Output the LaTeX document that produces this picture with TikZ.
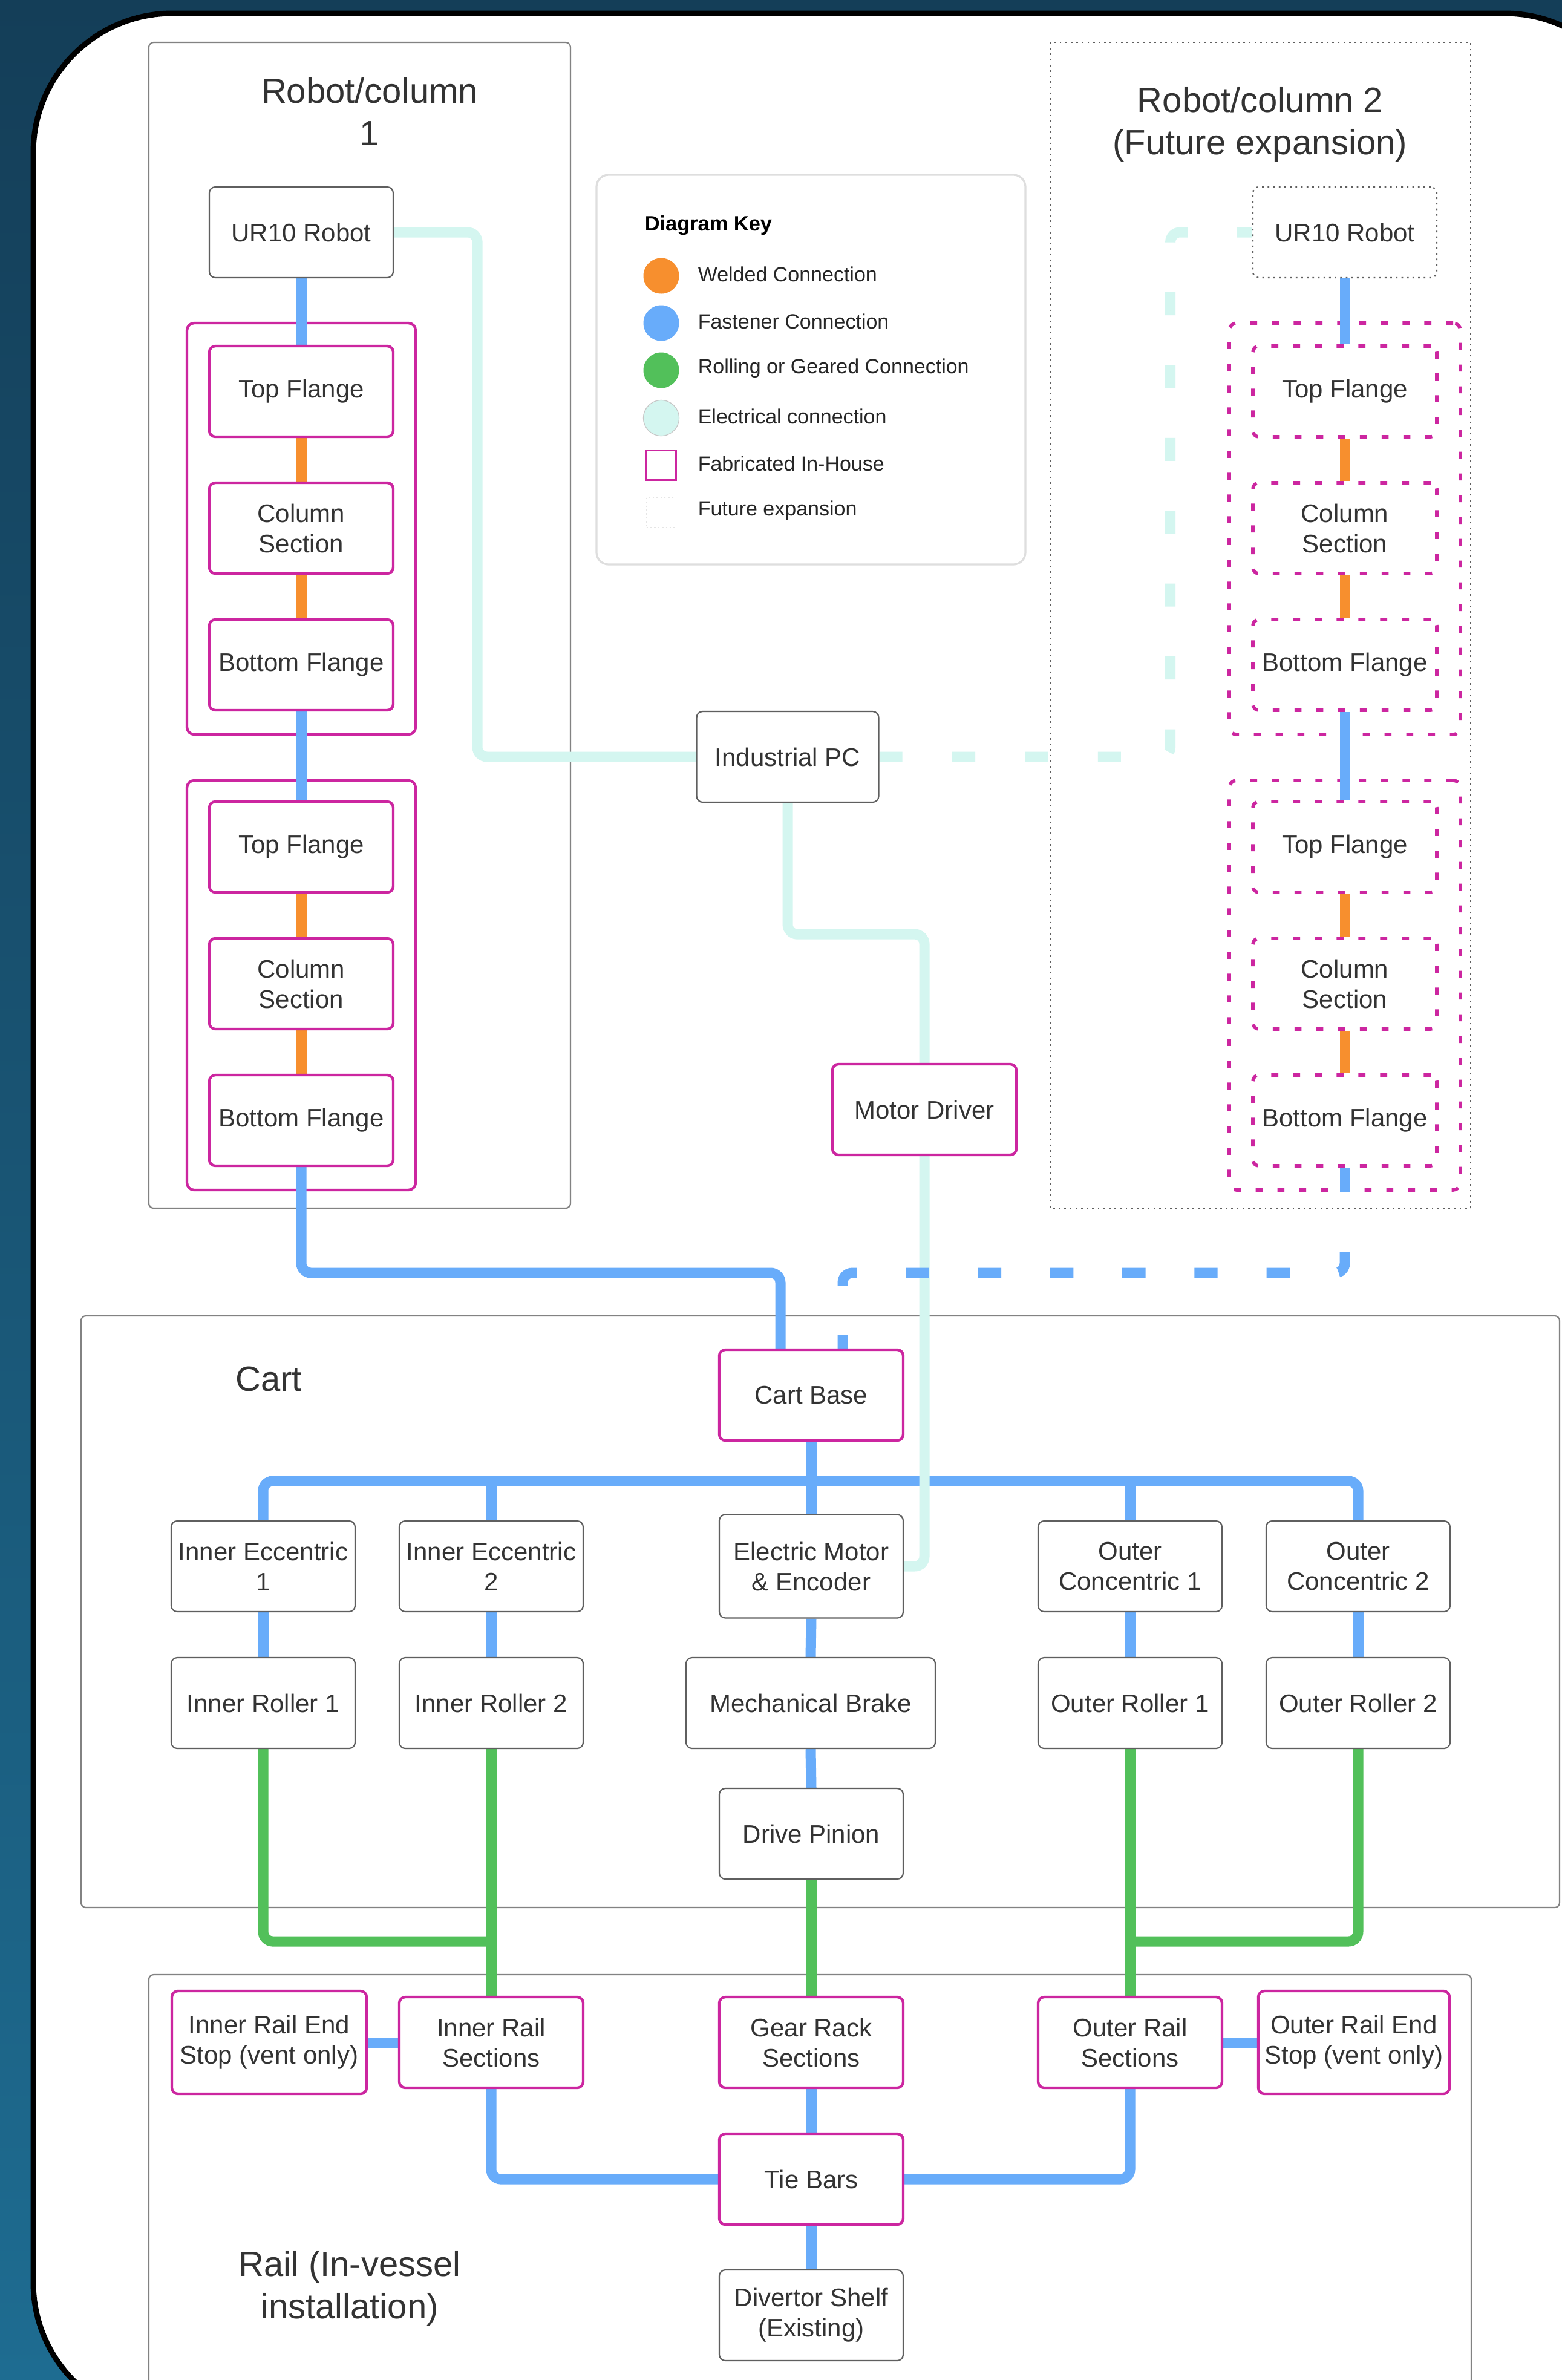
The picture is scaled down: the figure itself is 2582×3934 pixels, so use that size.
\documentclass[tikz,border=0pt]{standalone}
\usepackage{fontspec}
\setmainfont{Liberation Sans}
\usetikzlibrary{calc}
\pgfdeclarelayer{back}
\pgfdeclarelayer{wires}
\pgfsetlayers{back,wires,main}

\definecolor{bgtop}{RGB}{20,62,88}
\definecolor{bgbot}{RGB}{30,108,145}
\definecolor{fastc}{RGB}{104,172,250}
\definecolor{weldc}{RGB}{247,143,46}
\definecolor{rollc}{RGB}{82,192,90}
\definecolor{elecc}{RGB}{212,246,240}
\definecolor{fabc}{RGB}{204,38,160}
\definecolor{txtc}{RGB}{51,51,51}
\definecolor{boxc}{RGB}{95,95,95}
\definecolor{contc}{RGB}{130,130,130}

\tikzset{
  box/.style={draw=boxc, line width=0.55pt, rounded corners=2.5pt, fill=white, text=txtc, align=center, inner sep=0pt, minimum width=76pt, minimum height=37.5pt, font=\fontsize{10.5}{12.5}\selectfont},
  fab/.style={box, draw=fabc, line width=1.1pt},
  futfab/.style={box, draw=fabc, line width=1.4pt, dash pattern=on 2.9pt off 6.1pt},
  futbox/.style={box, draw=boxc, line width=0.6pt, dash pattern=on 0.7pt off 1.6pt},
  grp/.style={draw=fabc, line width=1.1pt, rounded corners=3pt, fill=white, inner sep=0pt, minimum width=94.5pt},
  futgrp/.style={grp, line width=1.4pt, dash pattern=on 2.9pt off 6.1pt, minimum width=95.5pt},
  cont/.style={draw=contc, line width=0.55pt, rounded corners=2pt, fill=white},
  futcont/.style={draw=boxc, line width=0.6pt, dash pattern=on 0.7pt off 1.6pt},
  wire/.style={line width=4.25pt, rounded corners=4pt},
  fast/.style={wire, draw=fastc},
  weld/.style={wire, draw=weldc},
  roll/.style={wire, draw=rollc},
  elec/.style={wire, draw=elecc},
  ttl/.style={text=txtc, align=center, font=\fontsize{14.5}{17.5}\selectfont},
  keytxt/.style={anchor=west, text=black!85, font=\fontsize{8.5}{10}\selectfont, inner sep=0pt},
  keydot/.style={circle, inner sep=0pt, minimum size=14.75pt},
}

\begin{document}
\begin{tikzpicture}[x=0.25pt,y=-0.25pt]
\useasboundingbox (0,0) rectangle (2582,3934);

\begin{pgfonlayer}{back}
  \fill[top color=bgtop, bottom color=bgbot] (0,0) rectangle (2582,3934);
  \draw[fill=white, line width=2.25pt, rounded corners=57.5pt] (55,22) rectangle (2717,4003);
  % containers
  \draw[cont] (246,70) rectangle (943,1997);
  \draw[futcont] (1736,70) rectangle (2431,1997);
  \draw[cont] (134,2175) rectangle (2578,3153);
  \draw[cont] (246,3264) rectangle (2432,3990);
  % legend frame
  \draw[draw=black!13, line width=0.8pt, rounded corners=5pt, fill=white] (986,289) rectangle (1695,933);
  % groups
  \node[grp, minimum height=170pt] (g1) at (498,874) {};
  \node[grp, minimum height=169.25pt] (g2) at (498,1628.5) {};
  \node[futgrp, minimum height=170pt] (g3) at (2223,874) {};
  \node[futgrp, minimum height=169.25pt] (g4) at (2223,1628.5) {};
\end{pgfonlayer}

% titles
\node[ttl] (t1) at (611,184) {Robot/column\\1};
\node[ttl] (t2) at (2083,205) {Robot/column 2\\(Future expansion)};
\node[ttl] (tcart) at (444,2279) {Cart};
\node[ttl] (trail) at (578,3782) {Rail (In-vessel\\installation)};

% legend
\node[anchor=west, inner sep=0pt, text=black, font=\bfseries\fontsize{8.6}{10}\selectfont] (kt) at (1065,373) {Diagram Key};
\node[keydot, fill=weldc] (k1) at (1093,456) {};
\node[keydot, fill=fastc] (k2) at (1093,534) {};
\node[keydot, fill=rollc] (k3) at (1093,612) {};
\node[keydot, fill=elecc, draw=black!22, line width=0.3pt] (k4) at (1093,691) {};
\node[draw=fabc, line width=0.6pt, minimum size=12.25pt, inner sep=0pt] (k5) at (1093,769) {};
\node[draw=black!10, line width=0.3pt, dash pattern=on 0.6pt off 1pt, minimum size=12.25pt, inner sep=0pt] (k6) at (1093,847) {};
\node[keytxt] (k1t) at (1153,453) {Welded Connection};
\node[keytxt] (k2t) at (1153,531) {Fastener Connection};
\node[keytxt] (k3t) at (1153,609) {Rolling or Geared Connection};
\node[keytxt] (k4t) at (1153,688) {Electrical connection};
\node[keytxt] (k5t) at (1153,766) {Fabricated In-House};
\node[keytxt] (k6t) at (1153,844) {Future expansion};

% column 1
\node[box] (r1ur) at (498,384) {UR10 Robot};
\node[fab] (r1tf1) at (498,647) {Top Flange};
\node[fab] (r1cs1) at (498,873) {Column\\Section};
\node[fab] (r1bf1) at (498,1099) {Bottom Flange};
\node[fab] (r1tf2) at (498,1400) {Top Flange};
\node[fab] (r1cs2) at (498,1626) {Column\\Section};
\node[fab] (r1bf2) at (498,1852) {Bottom Flange};

% column 2
\node[futbox] (r2ur) at (2223,384) {UR10 Robot};
\node[futfab] (r2tf1) at (2223,647) {Top Flange};
\node[futfab] (r2cs1) at (2223,873) {Column\\Section};
\node[futfab] (r2bf1) at (2223,1099) {Bottom Flange};
\node[futfab] (r2tf2) at (2223,1400) {Top Flange};
\node[futfab] (r2cs2) at (2223,1626) {Column\\Section};
\node[futfab] (r2bf2) at (2223,1852) {Bottom Flange};

% control
\node[box, minimum width=75.25pt] (ipc) at (1302,1251) {Industrial PC};
\node[fab] (md) at (1528,1834) {Motor Driver};

% cart
\node[fab] (cb) at (1341,2306) {Cart Base};
\node[box] (ie1) at (435,2589) {Inner Eccentric\\1};
\node[box] (ie2) at (812,2589) {Inner Eccentric\\2};
\node[box, minimum height=42.75pt] (em) at (1341,2589) {Electric Motor\\\& Encoder};
\node[box] (oc1) at (1868,2589) {Outer\\Concentric 1};
\node[box] (oc2) at (2245,2589) {Outer\\Concentric 2};
\node[box] (ir1) at (435,2815) {Inner Roller 1};
\node[box] (ir2) at (812,2815) {Inner Roller 2};
\node[box, minimum width=103pt] (mb) at (1340,2815) {Mechanical Brake};
\node[box] (or1) at (1868,2815) {Outer Roller 1};
\node[box] (or2) at (2245,2815) {Outer Roller 2};
\node[box] (dp) at (1341,3031) {Drive Pinion};

% rail
\node[fab, minimum width=80.5pt, minimum height=42.5pt] (ires) at (445,3376) {Inner Rail End\\Stop (vent only)};
\node[fab] (irs) at (812,3376) {Inner Rail\\Sections};
\node[fab] (grs) at (1341,3376) {Gear Rack\\Sections};
\node[fab] (ors) at (1868,3376) {Outer Rail\\Sections};
\node[fab, minimum width=79pt, minimum height=42.5pt] (ores) at (2238,3376) {Outer Rail End\\Stop (vent only)};
\node[fab] (tb) at (1341,3602) {Tie Bars};
\node[box] (ds) at (1341,3827) {Divertor Shelf\\(Existing)};

% helper coordinates
\coordinate (j1) at (1290,2104);
\coordinate (j2s) at (2223,2069);
\coordinate (j2) at (1393,2104);
\coordinate (busy) at (0,2448);
\coordinate (gy) at (0,3209);

\begin{pgfonlayer}{wires}
  % column 1
  \draw[fast] (r1ur.south) -- (r1tf1.north);
  \draw[weld] (r1tf1.south) -- (r1cs1.north);
  \draw[weld] (r1cs1.south) -- (r1bf1.north);
  \draw[fast] (r1bf1.south) -- (r1tf2.north);
  \draw[weld] (r1tf2.south) -- (r1cs2.north);
  \draw[weld] (r1cs2.south) -- (r1bf2.north);
  \draw[fast] (r1bf2.south) |- (j1) -- (j1 |- cb.north);
  % column 2
  \draw[fast] (r2ur.south) -- (r2tf1.north);
  \draw[weld] (r2tf1.south) -- (r2cs1.north);
  \draw[weld] (r2cs1.south) -- (r2bf1.north);
  \draw[fast] (r2bf1.south) -- (r2tf2.north);
  \draw[weld] (r2tf2.south) -- (r2cs2.north);
  \draw[weld] (r2cs2.south) -- (r2bf2.north);
  \draw[fast] (r2bf2.south) -- (g4.south);
  % cart
  \draw[fast] (cb.south) -- (em.north);
  \draw[fast] (ie1.north) |- (oc2.north |- busy) -- (oc2.north);
  \draw[fast] (ie2.north) -- (ie2.north |- busy);
  \draw[fast] (oc1.north) -- (oc1.north |- busy);
  \draw[fast] (ie1.south) -- (ir1.north);
  \draw[fast] (ie2.south) -- (ir2.north);
  \draw[fast] (em.south) -- (mb.north);
  \draw[fast] (oc1.south) -- (or1.north);
  \draw[fast] (oc2.south) -- (or2.north);
  \draw[fast] (mb.south) -- (dp.north);
  % rolling
  \draw[roll] (ir1.south) |- (ir2.south |- gy);
  \draw[roll] (ir2.south) -- (irs.north);
  \draw[roll] (dp.south) -- (grs.north);
  \draw[roll] (or1.south) -- (ors.north);
  \draw[roll] (or2.south) |- (or1.south |- gy);
  % rail
  \draw[fast] (ires.east) -- (irs.west);
  \draw[fast] (ors.east) -- (ores.west);
  \draw[fast] (grs.south) -- (tb.north);
  \draw[fast] (irs.south) |- (tb.west);
  \draw[fast] (ors.south) |- (tb.east);
  \draw[fast] (tb.south) -- (ds.north);
  % electrical
  \draw[elec] (r1ur.east) -- ++(138,0) |- (ipc.west);
  \draw[elec] (ipc.south) -- ++(0,217) -| (md.north);
  \draw[elec] (md.south) |- (em.east);
  \draw[elec, dash pattern=on 9.5pt off 20.6pt] (ipc.east) -- ++(481,0) |- (r2ur.west);
  % future fastener
  \draw[fast, dash pattern=on 9.6pt off 20.2pt] (j2s) |- (j2) -- (j2 |- cb.north);
\end{pgfonlayer}
\end{tikzpicture}
\end{document}
